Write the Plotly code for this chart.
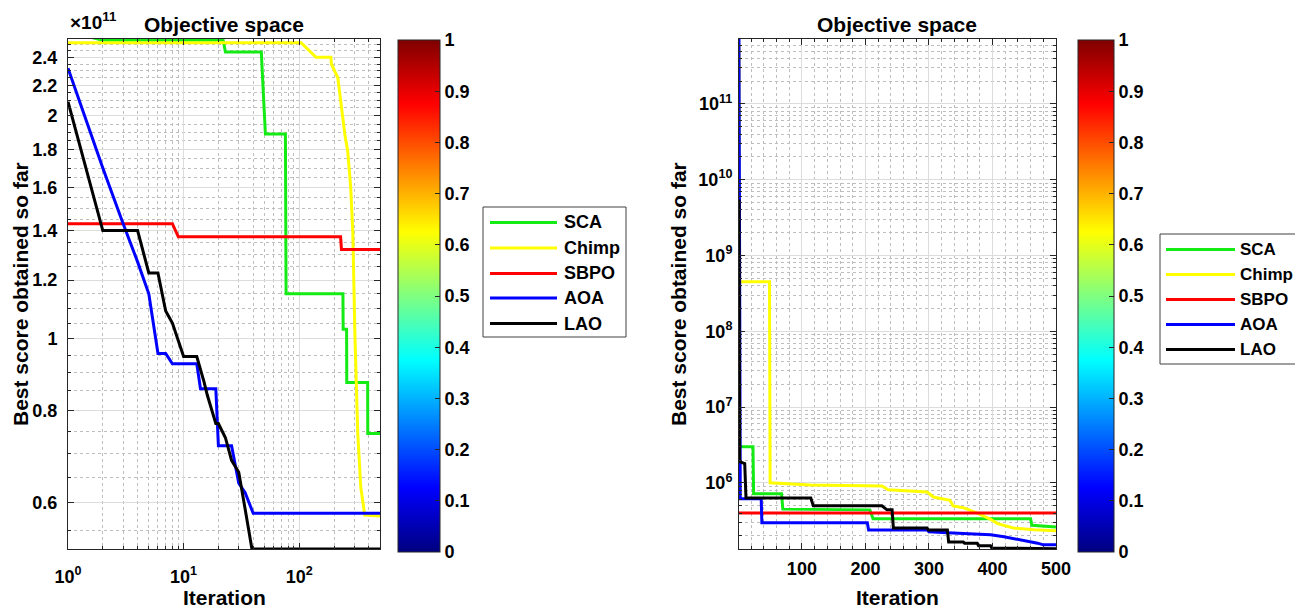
import math
import plotly.graph_objects as go

W, H = 1295, 609

# ---------------- left panel: log-log convergence (scores in units of 1e11) ----------------
sca_l_it = [1, 2, 22, 23, 47, 51, 76, 77, 239, 240, 257, 258, 391, 392, 500]
sca_l_val = [2.60, 2.53, 2.53, 2.44, 2.44, 1.89, 1.89, 1.15, 1.15, 1.03, 1.03, 0.873, 0.873, 0.745, 0.745]

chimp_l_it = [1, 104, 140, 188, 190, 216, 229, 248, 263, 279, 291, 297, 303, 321, 341, 369, 500]
chimp_l_val = [2.51, 2.51, 2.40, 2.40, 2.35, 2.25, 2.09, 1.89, 1.79, 1.60, 1.39, 1.12, 1.02, 0.745, 0.63, 0.578, 0.576]

sbpo_l_it = [1, 8, 9, 228, 232, 500]
sbpo_l_val = [1.43, 1.43, 1.373, 1.373, 1.32, 1.32]

aoa_l_it = [1, 2, 3, 4, 5, 6, 7, 8, 13, 14, 19, 20, 26, 30, 34, 40, 500]
aoa_l_val = [2.32, 1.70, 1.43, 1.27, 1.15, 0.955, 0.955, 0.925, 0.925, 0.856, 0.856, 0.717, 0.717, 0.638, 0.62, 0.581, 0.581]

lao_l_it = [1, 2, 4, 5, 6, 7, 8, 9, 10, 13, 14, 15, 16, 19, 20, 23, 26, 30, 34, 39, 500]
lao_l_val = [2.09, 1.40, 1.40, 1.227, 1.227, 1.09, 1.05, 0.99, 0.946, 0.946, 0.91, 0.875, 0.84, 0.768, 0.768, 0.735, 0.685, 0.66, 0.59, 0.52, 0.52]

left_yticks = [0.6, 0.8, 1, 1.2, 1.4, 1.6, 1.8, 2, 2.2, 2.4]
left_yticktext = ["0.6", "0.8", "1", "1.2", "1.4", "1.6", "1.8", "2", "2.2", "2.4"]
left_xticks = [1, 10, 100]
left_xticktext = ["10<sup>0</sup>", "10<sup>1</sup>", "10<sup>2</sup>"]

# ---------------- right panel: semilog-y convergence ----------------
sca_r_it = [1, 2, 23, 24, 68, 70, 207, 212, 460, 462, 500]
sca_r_val = [8e8, 3.0e6, 3.0e6, 7.2e5, 7.2e5, 4.5e5, 4.4e5, 3.35e5, 3.35e5, 2.75e5, 2.62e5]

chimp_r_it = [1, 2, 49, 50, 113, 226, 236, 297, 307, 333, 338, 354, 376, 397, 408, 433, 465, 500]
chimp_r_val = [6e11, 4.5e8, 4.5e8, 1.0e6, 9.4e5, 9.1e5, 8.1e5, 7.6e5, 6.5e5, 5.9e5, 4.97e5, 4.7e5, 4.0e5, 3.3e5, 2.9e5, 2.54e5, 2.4e5, 2.33e5]

sbpo_r_it = [1, 500]
sbpo_r_val = [4.0e5, 4.0e5]

aoa_r_it = [1, 2, 3, 36, 37, 203, 205, 297, 300, 329, 397, 418, 444, 471, 480, 500]
aoa_r_val = [7.2e11, 1.8e6, 6.15e5, 6.15e5, 2.97e5, 2.97e5, 2.39e5, 2.39e5, 2.26e5, 2.2e5, 2.07e5, 1.94e5, 1.77e5, 1.6e5, 1.52e5, 1.52e5]

lao_r_it = [1, 2, 6, 10, 12, 114, 118, 226, 234, 242, 244, 297, 299, 329, 331, 354, 356, 376, 378, 397, 399, 500]
lao_r_val = [5.5e9, 1.9e6, 1.85e6, 1.8e6, 6.3e5, 6.3e5, 4.97e5, 4.97e5, 4.4e5, 4.4e5, 2.54e5, 2.54e5, 2.39e5, 2.39e5,
             1.66e5, 1.66e5, 1.6e5, 1.6e5, 1.48e5, 1.48e5, 1.38e5, 1.35e5]

right_xticks = [100, 200, 300, 400, 500]
right_ytick_exp = [6, 7, 8, 9, 10, 11]

colorbar_ticks = [0, 0.1, 0.2, 0.3, 0.4, 0.5, 0.6, 0.7, 0.8, 0.9, 1]

names = ["SCA", "Chimp", "SBPO", "AOA", "LAO"]
colors = ["#14EB14", "#FFFF00", "#FF0000", "#0000FF", "#000000"]

left_series = [(sca_l_it, sca_l_val), (chimp_l_it, chimp_l_val), (sbpo_l_it, sbpo_l_val),
               (aoa_l_it, aoa_l_val), (lao_l_it, lao_l_val)]
right_series = [(sca_r_it, sca_r_val), (chimp_r_it, chimp_r_val), (sbpo_r_it, sbpo_r_val),
                (aoa_r_it, aoa_r_val), (lao_r_it, lao_r_val)]

FONT = "Liberation Sans, Arial, Helvetica, sans-serif"
AX_COLOR = "#262626"

# MATLAB-style jet colormap
jet = [[0.0, "#00007F"], [0.125, "#0000FF"], [0.375, "#00FFFF"],
       [0.625, "#FFFF00"], [0.875, "#FF0000"], [1.0, "#7F0000"]]


def px(x):
    return x / W


def py(y):
    return 1 - y / H


fig = go.Figure()

for (it, val), name, col in zip(left_series, names, colors):
    fig.add_trace(go.Scatter(x=it, y=val, mode="lines", name=name, showlegend=False,
                             line=dict(color=col, width=3), xaxis="x", yaxis="y"))
for (it, val), name, col in zip(right_series, names, colors):
    fig.add_trace(go.Scatter(x=it, y=val, mode="lines", name=name, showlegend=False,
                             line=dict(color=col, width=3), xaxis="x2", yaxis="y2"))

# invisible carriers for the two colorbars (placed outside the visible ranges)
fig.add_trace(go.Scatter(x=[5000, 5000], y=[1, 1], mode="markers", showlegend=False, hoverinfo="skip",
                         marker=dict(size=1, opacity=0, color=[0, 1], coloraxis="coloraxis"),
                         xaxis="x", yaxis="y"))
fig.add_trace(go.Scatter(x=[5000, 5000], y=[1e8, 1e8], mode="markers", showlegend=False, hoverinfo="skip",
                         marker=dict(size=1, opacity=0, color=[0, 1], coloraxis="coloraxis2"),
                         xaxis="x2", yaxis="y2"))

tickfont = dict(family=FONT, size=18, color="#000000", weight="bold")
ydom = [py(549), py(39)]

common = dict(showline=True, linecolor=AX_COLOR, linewidth=1, mirror="ticks",
              ticks="inside", ticklen=6, tickcolor=AX_COLOR, tickwidth=1,
              showgrid=True, gridcolor="#DCDCDC", gridwidth=1, zeroline=False,
              tickfont=tickfont, automargin=False)

left_x_minor = [m * 10 ** k for k in range(0, 3) for m in range(2, 10) if m * 10 ** k <= 500]
left_y_minor = [round(0.5 + 0.05 * i, 2) for i in range(0, 42)]
left_y_minor = [v for v in left_y_minor if 0.52 < v < 2.54 and v not in left_yticks]
right_y_minor = [m * 10 ** k for k in range(5, 12) for m in range(2, 10)]
right_x_minor = [v for v in range(20, 500, 20) if v % 100]

minor_style = dict(ticks="inside", ticklen=3, tickcolor=AX_COLOR, showgrid=True,
                   gridcolor="#BEBEBE", griddash="dot", gridwidth=1)

fig.update_layout(
    width=W, height=H, margin=dict(l=0, r=0, t=0, b=0, autoexpand=False),
    paper_bgcolor="white", plot_bgcolor="white", showlegend=False,
    font=dict(family=FONT, color="#000000"),
    xaxis=dict(domain=[px(68), px(380)], type="log", range=[0, math.log10(500)],
               tickmode="array", tickvals=left_xticks, ticktext=left_xticktext,
               minor=dict(tickmode="array", tickvals=left_x_minor, **minor_style),
               ticklabelstandoff=11, anchor="y", **common),
    yaxis=dict(domain=ydom, type="log", range=[math.log10(0.52), math.log10(2.54)],
               tickmode="array", tickvals=left_yticks, ticktext=left_yticktext,
               minor=dict(tickmode="array", tickvals=left_y_minor, **minor_style),
               ticklabelstandoff=6, anchor="x", **common),
    xaxis2=dict(domain=[px(739), px(1056)], type="linear", range=[1, 500],
                tickmode="array", tickvals=right_xticks,
                minor=dict(tickmode="array", tickvals=right_x_minor, **minor_style),
                ticklabelstandoff=3, anchor="y2", **common),
    yaxis2=dict(domain=ydom, type="log", range=[math.log10(1.34e5), math.log10(7.2e11)],
                tickmode="array", tickvals=[10 ** e for e in right_ytick_exp],
                ticktext=[f"10<sup>{e}</sup>" for e in right_ytick_exp],
                minor=dict(tickmode="array", tickvals=right_y_minor, **minor_style),
                ticklabelstandoff=2, anchor="x2", **common),
)

cb_common = dict(thicknessmode="pixels", lenmode="pixels", len=512, yanchor="middle", y=py(296),
                 xanchor="left", xpad=0, ypad=0, outlinecolor=AX_COLOR, outlinewidth=1,
                 ticks="inside", ticklen=5, tickcolor=AX_COLOR, tickmode="array",
                 tickvals=colorbar_ticks, ticktext=[f"{v:g}" for v in colorbar_ticks],
                 tickfont=tickfont, ticklabelposition="outside")
fig.update_layout(
    coloraxis=dict(colorscale=jet, cmin=0, cmax=1,
                   colorbar=dict(x=px(398), thickness=42, **cb_common)),
    coloraxis2=dict(colorscale=jet, cmin=0, cmax=1,
                    colorbar=dict(x=px(1078), thickness=36, **cb_common)),
)

annotations = []
shapes = []


def add_text(text, x, y, angle=0, size=21, xanchor="center", yanchor="middle"):
    annotations.append(dict(text=text, x=px(x), y=py(y), xref="paper", yref="paper",
                            xanchor=xanchor, yanchor=yanchor, showarrow=False, textangle=angle,
                            font=dict(family=FONT, size=size, color="#000000")))


# panel titles, axis titles and the exponent tag of the left y axis
for cx, ylab_x in ((224, 20), (897, 678)):
    add_text("<b>Objective space</b>", cx, 25)
    add_text("<b>Iteration</b>", cx, 597)
    add_text("<b>Best score obtained so far</b>", ylab_x, 294, angle=-90)
add_text("<b>×10<sup>11</sup></b>", 68, 35, size=19, xanchor="left", yanchor="bottom")


# legends drawn as boxed keys beside each colorbar
def add_legend(x0, y0, line_x0, line_x1, text_x, ys, box_w, box_h, size):
    shapes.append(dict(type="rect", xref="paper", yref="paper", x0=px(x0), x1=px(x0 + box_w),
                       y0=py(y0 + box_h), y1=py(y0), line=dict(color="#404040", width=1),
                       fillcolor="white", layer="above"))
    for yy, name, col in zip(ys, names, colors):
        shapes.append(dict(type="line", xref="paper", yref="paper", x0=px(line_x0), x1=px(line_x1),
                           y0=py(yy), y1=py(yy), line=dict(color=col, width=3), layer="above"))
        add_text(f"<b>{name}</b>", text_x, yy, size=size, xanchor="left")


add_legend(483, 207, 490, 557, 562, [222.5, 248, 273.5, 298, 323.5], 143, 130, 18)
add_legend(1160, 234, 1166, 1235, 1238, [249.5, 274.5, 299.5, 324.5, 349.5], 143, 130, 17)

fig.update_layout(annotations=annotations, shapes=shapes)

fig.write_html("out.html")
